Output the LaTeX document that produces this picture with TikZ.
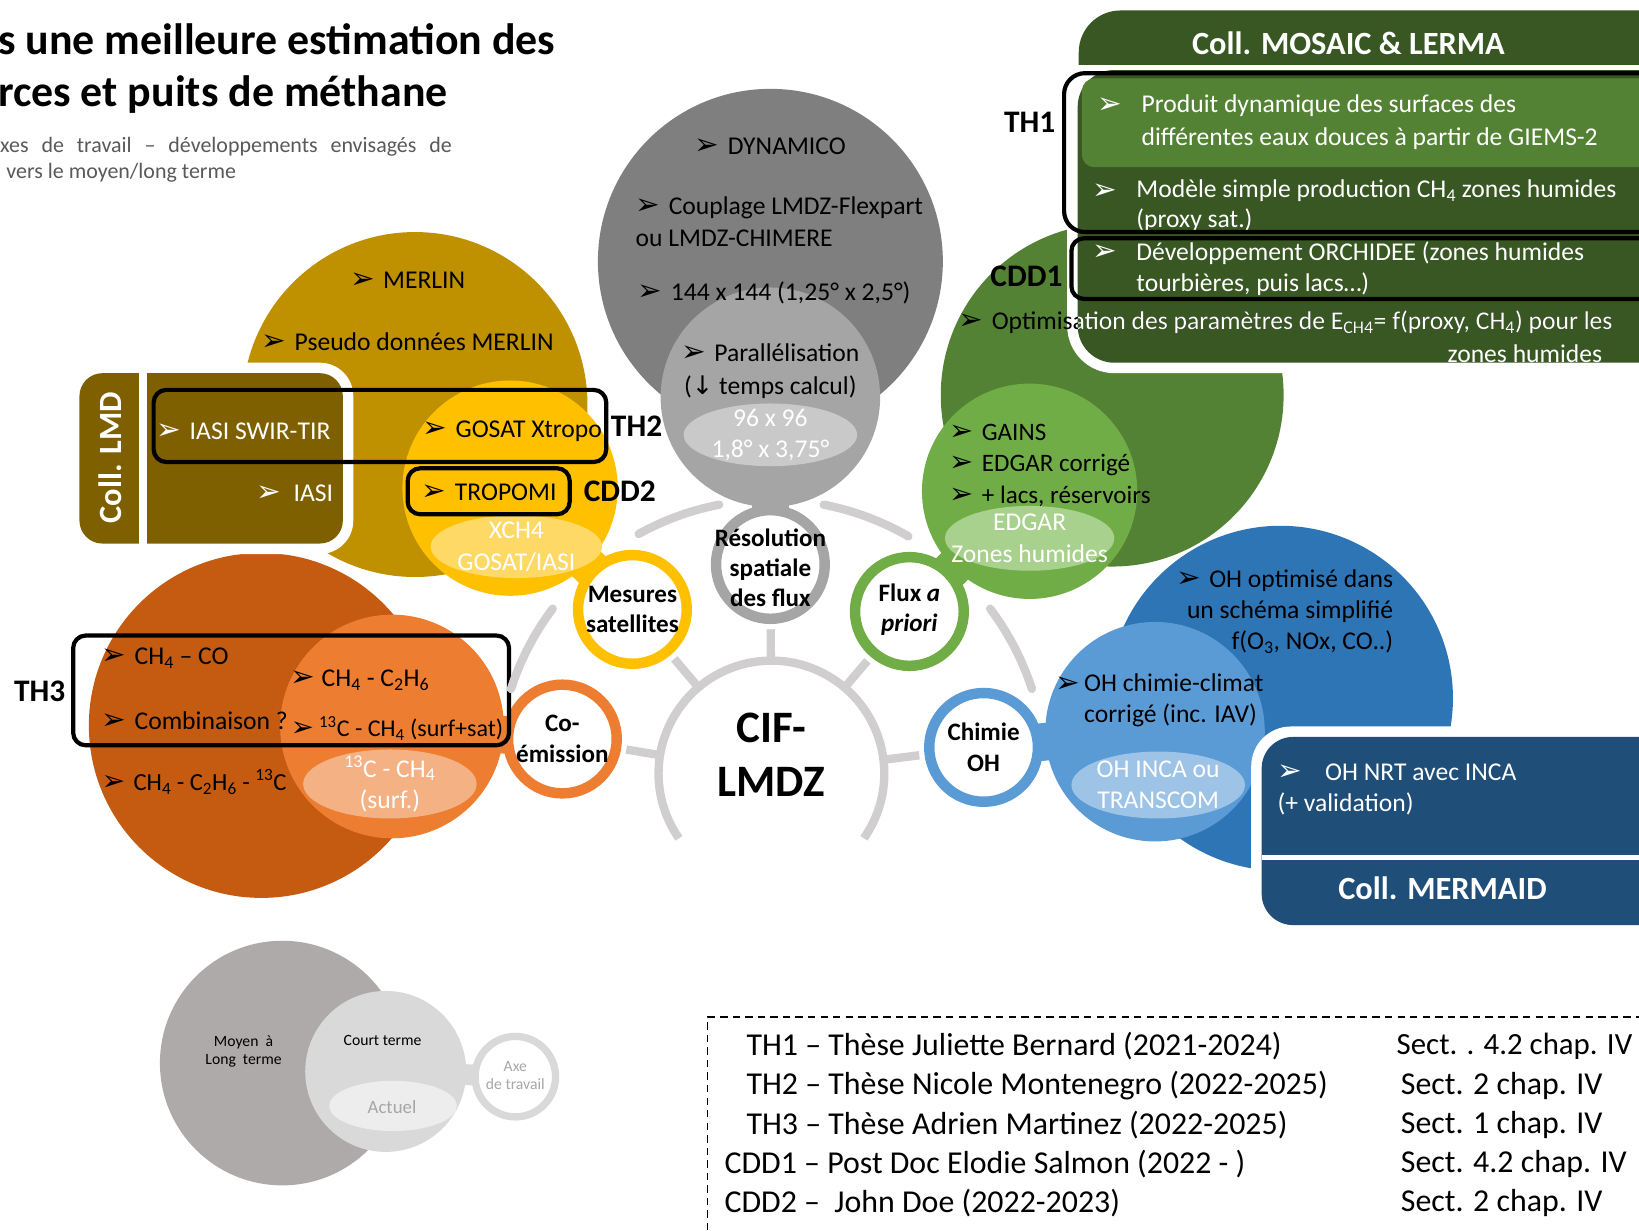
\documentclass[tikz,border=0pt]{standalone}
\usepackage{fontspec}
\setmainfont{Carlito}
\newfontfamily\dingfont{DejaVu Sans}
\usetikzlibrary{shapes.geometric}
\definecolor{mygray}{HTML}{7F7F7F}
\definecolor{mymidgray}{HTML}{A5A5A5}
\definecolor{mylightgray}{HTML}{C9C9C9}
\definecolor{myspoke}{HTML}{D0CECE}
\definecolor{mygold}{HTML}{BF9000}
\definecolor{myyellow}{HTML}{FFC000}
\definecolor{myyellowl}{HTML}{FFD966}
\definecolor{myolive}{HTML}{7F6000}
\definecolor{myrust}{HTML}{C55A11}
\definecolor{myorange}{HTML}{ED7D31}
\definecolor{myorangel}{HTML}{F4B183}
\definecolor{mygreen}{HTML}{548235}
\definecolor{mygreenm}{HTML}{70AD47}
\definecolor{mygreenl}{HTML}{A9D18E}
\definecolor{mymosaic}{HTML}{385723}
\definecolor{myblue}{HTML}{2E75B6}
\definecolor{mybluem}{HTML}{5B9BD5}
\definecolor{mybluel}{HTML}{9DC3E6}
\definecolor{mymermaid}{HTML}{1F4E79}
\definecolor{mykeygray}{HTML}{AEAAAA}
\definecolor{mykeylight}{HTML}{D9D9D9}
\definecolor{mykeyoval}{HTML}{EDEDED}
\definecolor{mykeytext}{HTML}{A6A6A6}
\definecolor{mysubgray}{HTML}{595959}
\newcommand{\bul}{\scalebox{1.15}{\dingfont ➢}}
\newcommand{\dn}{{\dingfont ↓}}
\newcommand{\optimtext}{\bul\hspace{8pt}Optimisation des paramètres de E\textsubscript{CH4}= f(proxy, CH\textsubscript{4}) pour les}

\begin{document}
\begin{tikzpicture}[x=1pt, y=-1pt,
  blob/.style={circle, inner sep=0pt},
  oval/.style={ellipse, inner sep=0pt},
  ovaltext/.style={inner sep=0pt, align=center, text=white, font=\fontsize{24.5}{30}\selectfont},
  ring/.style={circle, draw, line width=10pt, fill=white, inner sep=0pt, minimum size=104pt},
  ringtext/.style={inner sep=0pt, align=center, font=\bfseries\fontsize{24}{29}\selectfont},
  neck/.style={line width=36pt},
  txt/.style={inner sep=0pt, align=left, font=\fontsize{24.5}{31}\selectfont},
  tag/.style={inner sep=0pt, font=\bfseries\fontsize{30}{32}\selectfont},
  thbox/.style={draw=black, line width=4pt, rounded corners=12pt},
  spoke/.style={draw=myspoke, line width=8pt},
  legend/.style={anchor=west, inner sep=0pt, font=\fontsize{30.5}{36}\selectfont}]
\useasboundingbox (0,0) rectangle (1568,1177);%
\clip (0,0) rectangle (1568,1177);%
% title
\node[anchor=base west, inner sep=0pt, font=\bfseries\fontsize{42}{48}\selectfont] (title1) at (-2,52) {s une meilleure estimation des};%
\node[anchor=base west, inner sep=0pt, font=\bfseries\fontsize{42}{48}\selectfont] (title2) at (-2,102) {rces et puits de méthane};%
\node[anchor=base west, inner sep=0pt, text=mysubgray, font=\fontsize{21}{25}\selectfont] (sub1) at (0,146) {\makebox[432pt][s]{xes de travail – développements envisagés de}};%
\node[anchor=base west, inner sep=0pt, text=mysubgray, font=\fontsize{21}{25}\selectfont] (sub2) at (6,171) {vers le moyen/long terme};%
% big circles
\node[blob, fill=mygray, minimum size=330pt] (dynamico) at (737,250) {};%
\node[blob, fill=mygold, minimum size=330pt] (merlin) at (397,387) {};%
\node[blob, fill=myrust, minimum size=330pt] (rust) at (250,694) {};%
\node[blob, fill=mygreen, minimum size=328pt] (wetland) at (1064,378) {};%
\node[blob, fill=myblue, minimum size=330pt] (ohbig) at (1225,668) {};%
% Coll. LMD
\fill[white, rounded corners=32pt] (66,347) rectangle (338,530);%
\fill[myolive, rounded corners=22pt] (76,357) rectangle (328,520);%
\fill[white] (133,357) rectangle (141,520);%
% middle circles and rings
\node[blob, fill=mymidgray, minimum size=210pt] (para) at (737,380) {};%
\draw[neck, mymidgray] (para.center) -- (737,540);%
\node[ring, draw=mymidgray] (resol) at (737,540) {};%
\node[blob, fill=myyellow, minimum size=206pt] (gosat) at (488,467) {};%
\draw[neck, myyellow] (gosat.center) -- (605,583);%
\node[ring, draw=myyellow] (mesures) at (605,583) {};%
\node[blob, fill=myorange, minimum size=214pt] (isotope) at (375,695) {};%
\draw[neck, myorange] (isotope.center) -- (538,707);%
\node[ring, draw=myorange] (coem) at (538,707) {};%
\node[blob, fill=mygreenm, minimum size=206pt] (inventory) at (985,470) {};%
\draw[neck, mygreenm] (inventory.center) -- (870,585);%
\node[ring, draw=mygreenm] (flux) at (870,585) {};%
\node[blob, fill=mybluem, minimum size=210pt] (ohchem) at (1105,700) {};%
\draw[neck, mybluem] (ohchem.center) -- (941,715);%
\node[ring, draw=mybluem] (chimie) at (941,715) {};%
% Coll. MOSAIC & LERMA
\fill[white, rounded corners=45pt] (1021,57) rectangle (1700,357);%
\fill[mymosaic, rounded corners=35pt] (1031,67) rectangle (1700,347);%
\begin{scope}
\clip (1000,0) rectangle (1700,62);%
\fill[mymosaic, rounded corners=40pt] (1032,10) rectangle (1700,150);%
\end{scope}
\fill[mygreen, rounded corners=12pt] (1035,75) rectangle (1700,160);%
% Coll. MERMAID
\fill[white, rounded corners=38pt] (1197,695) rectangle (1700,895);%
\fill[mymermaid, rounded corners=30pt] (1207,705) rectangle (1700,885);%
\fill[white] (1207,818) rectangle (1700,823);%
% ovals
\node[oval, fill=mylightgray, minimum width=166pt, minimum height=60pt] (grid) at (737,416) {};%
\node[oval, fill=myyellowl, minimum width=164pt, minimum height=60pt] (xch4) at (494,523) {};%
\node[oval, fill=myorangel, minimum width=166pt, minimum height=66pt] (surf) at (373,750) {};%
\node[oval, fill=mygreenl, minimum width=162pt, minimum height=62pt] (edgar) at (985,515) {};%
\node[oval, fill=mybluel, minimum width=166pt, minimum height=64pt] (inca) at (1108,751) {};%
\node[ovaltext] (gridtxt) at (grid) {96 x 96\\1,8° x 3,75°};%
\node[ovaltext] (xch4txt) at (494,523) {XCH4\\GOSAT/IASI};%
\node[ovaltext] (surftxt) at (373,750) {\textsuperscript{13}C - CH\textsubscript{4}\\(surf.)};%
\node[ovaltext] (edgartxt) at (985,515) {EDGAR\\Zones humides};%
\node[ovaltext] (incatxt) at (1108,751) {OH INCA ou\\TRANSCOM};%
% texts
\node[txt] (dyn1) at (737,140) {\bul\hspace{8pt}DYNAMICO};%
\node[txt, anchor=west] (dyn2) at (608,212) {\bul\hspace{8pt}Couplage LMDZ-Flexpart\\ou LMDZ-CHIMERE};%
\node[txt, anchor=west] (dyn3) at (610,280) {\bul\hspace{8pt}144 x 144 (1,25° x 2,5°)};%
\node[txt, align=center] (paratxt) at (737,355) {\bul\hspace{8pt}Parallélisation\\(\dn\ temps calcul)};%
\node[txt] (merlin1) at (390,268) {\bul\hspace{8pt}MERLIN};%
\node[txt] (merlin2) at (390,327) {\bul\hspace{8pt}Pseudo données MERLIN};%
\node[inner sep=0pt, rotate=90, text=white, font=\bfseries\fontsize{31}{32}\selectfont] (lmd) at (105,438) {Coll. LMD};%
\node[txt, text=white] (iasi1) at (233,413) {\bul\hspace{8pt}IASI SWIR-TIR};%
\node[txt, text=white] (iasi2) at (282,472) {\bul\hspace{12pt}IASI};%
\node[txt] (gosat1) at (490,413) {\bul\hspace{8pt}GOSAT Xtropo};%
\node[txt] (tropomi) at (468,471) {\bul\hspace{8pt}TROPOMI};%
\node[txt, anchor=west] (co1) at (97,630) {\bul\hspace{8pt}CH\textsubscript{4} – CO};%
\node[txt, anchor=west] (co2) at (97,689) {\bul\hspace{8pt}Combinaison ?};%
\node[txt, anchor=west, font=\fontsize{23.5}{30}\selectfont] (co3) at (97,748) {\bul\hspace{8pt}CH\textsubscript{4} - C\textsubscript{2}H\textsubscript{6} - \textsuperscript{13}C};%
\node[txt, anchor=west] (co4) at (278,651) {\bul\hspace{6pt}CH\textsubscript{4} - C\textsubscript{2}H\textsubscript{6}};%
\node[txt, anchor=west, font=\fontsize{23}{30}\selectfont] (co5) at (278,697) {\bul\hspace{5pt}\textsuperscript{13}C - CH\textsubscript{4} (surf+sat)};%
\node[txt, anchor=west, font=\fontsize{24}{30}\selectfont] (gains) at (908,445) {\bul\hspace{8pt}GAINS\\\bul\hspace{8pt}EDGAR corrigé\\\bul\hspace{8pt}+ lacs, réservoirs};%
\node[txt, anchor=west] (optim) at (917,308) {\optimtext};%
\begin{scope}
\clip[rounded corners=35pt] (1031,67) rectangle (1700,347);%
\node[txt, anchor=west, text=white] (optimw) at (917,308) {\optimtext};%
\end{scope}
\node[txt, anchor=east, text=white] (zones) at (1533,338) {zones humides};%
\node[inner sep=0pt, text=white, font=\bfseries\fontsize{31}{32}\selectfont] (mosaic) at (1290,41) {Coll. MOSAIC \& LERMA};%
\node[txt, text=white] (bp1) at (1062,101) {\bul};%
\node[txt, anchor=west, text=white, font=\fontsize{24.5}{32}\selectfont] (prod) at (1092,117) {Produit dynamique des surfaces des\\différentes eaux douces à partir de GIEMS-2};%
\node[txt, text=white] (bp2) at (1057,183) {\bul};%
\node[txt, anchor=west, text=white, font=\fontsize{24.5}{29}\selectfont] (model) at (1087,197) {Modèle simple production CH\textsubscript{4} zones humides\\(proxy sat.)};%
\node[txt, text=white] (bp3) at (1057,242) {\bul};%
\node[txt, anchor=west, text=white, font=\fontsize{24.5}{30}\selectfont] (orch) at (1087,257) {Développement ORCHIDEE (zones humides\\tourbières, puis lacs…)};%
\node[txt, anchor=east, align=right, font=\fontsize{24.5}{30}\selectfont] (ohopt) at (1333,585) {\bul\hspace{8pt}OH optimisé dans\\un schéma simplifié\\f(O\textsubscript{3}, NOx, CO..)};%
\node[txt] (bc1) at (1022,655) {\bul};%
\node[txt, anchor=west, font=\fontsize{24.5}{30}\selectfont] (ohchim) at (1037,670) {OH chimie-climat\\corrigé (inc. IAV)};%
\node[txt, anchor=west, text=white, font=\fontsize{24.5}{30}\selectfont] (nrt) at (1222,755) {\bul\hspace{22pt}OH NRT avec INCA\\(+ validation)};%
\node[inner sep=0pt, text=white, font=\bfseries\fontsize{31}{32}\selectfont] (mermaid) at (1380,850) {Coll. MERMAID};%
% frames
\draw[thbox] (147,373) rectangle (580,442);%
\draw[thbox] (390,448) rectangle (545,492);%
\draw[thbox] (70,608) rectangle (487,713);%
\draw[thbox, rounded corners=20pt] (1018,70) rectangle (1600,222);%
\draw[thbox] (1025,228) rectangle (1600,286);%
\node[tag] (th2) at (609,408) {TH2};%
\node[tag] (cdd2) at (593,470) {CDD2};%
\node[tag] (th3) at (38,661) {TH3};%
\node[tag] (th1) at (985,117) {TH1};%
\node[tag] (cdd1) at (982,264) {CDD1};%
% CIF-LMDZ
\node[blob, fill=white, minimum size=216pt] (cif) at (738,740) {};%
\draw[myspoke, line width=8pt] (cif.center) ++(-35:108pt) arc[start angle=-35, end angle=215, radius=108pt];%
\foreach \a/\b in {119/101, 79/60, 162/143, 37/18}
  \draw[myspoke, line width=8pt, line cap=round] (cif.center) ++(\a:262pt) arc[start angle=\a, end angle=\b, radius=262pt];%
\foreach \n in {resol, mesures, flux, coem, chimie}
  \draw[spoke, shorten >=5pt] (cif) -- (\n);%
\node[inner sep=0pt, align=center, font=\bfseries\fontsize{43}{51}\selectfont] (ciftxt) at (738,722) {CIF-\\LMDZ};%
\node[ringtext] (resoltxt) at (737,543) {Résolution\\spatiale\\des flux};%
\node[ringtext] (mesurestxt) at (605,583) {Mesures\\satellites};%
\node[ringtext] (fluxtxt) at (870,583) {Flux \textit{a}\\\textit{priori}};%
\node[ringtext] (coemtxt) at (538,707) {Co-\\émission};%
\node[ringtext] (chimietxt) at (941,715) {Chimie\\OH};%
% key
\node[blob, fill=mykeygray, minimum size=234pt] (keylong) at (270,1017) {};%
\node[blob, fill=mykeylight, minimum size=154pt] (keyshort) at (369,1025) {};%
\draw[line width=20pt, mykeylight] (keyshort.center) -- (493,1030);%
\node[circle, draw=mykeylight, line width=7pt, fill=white, minimum size=77pt, inner sep=0pt] (keyaxe) at (493,1030) {};%
\node[oval, fill=mykeyoval, minimum width=122pt, minimum height=48pt] (keynow) at (376,1058) {};%
\node[inner sep=0pt, align=center, font=\fontsize{15}{18}\selectfont] (keylongtxt) at (233,1006) {Moyen~~à\\Long~~terme};%
\node[inner sep=0pt, font=\fontsize{15}{18}\selectfont] (keyshorttxt) at (366,995) {Court terme};%
\node[inner sep=0pt, text=mykeytext, font=\fontsize{18}{20}\selectfont] (keynowtxt) at (375,1059) {Actuel};%
\node[inner sep=0pt, align=center, text=mykeytext, font=\fontsize{15}{18}\selectfont] (keyaxetxt) at (493,1029) {Axe\\de travail};%
% table
\draw[dash pattern=on 7pt off 5pt, line width=1.5pt] (677,1177) -- (677,973) -- (1568,973);%
\node[legend] (th1row) at (714,1001) {TH1 – Thèse Juliette Bernard (2021-2024)};%
\node[legend] (th2row) at (714,1039) {TH2 – Thèse Nicole Montenegro (2022-2025)};%
\node[legend] (th3row) at (714,1076) {TH3 – Thèse Adrien Martinez (2022-2025)};%
\node[legend] (cdd1row) at (693,1114) {CDD1 – Post Doc Elodie Salmon (2022 - )};%
\node[legend] (cdd2row) at (693,1151) {CDD2 – \ John Doe (2022-2023)};%
\node[legend, font=\fontsize{29.5}{36}\selectfont] (th1sect) at (1336,1001) {Sect. . 4.2 chap. IV};%
\node[legend] (th2sect) at (1340,1039) {Sect. 2 chap. IV};%
\node[legend] (th3sect) at (1340,1076) {Sect. 1 chap. IV};%
\node[legend] (cdd1sect) at (1340,1114) {Sect. 4.2 chap. IV};%
\node[legend] (cdd2sect) at (1340,1151) {Sect. 2 chap. IV};%
\end{tikzpicture}
\end{document}
